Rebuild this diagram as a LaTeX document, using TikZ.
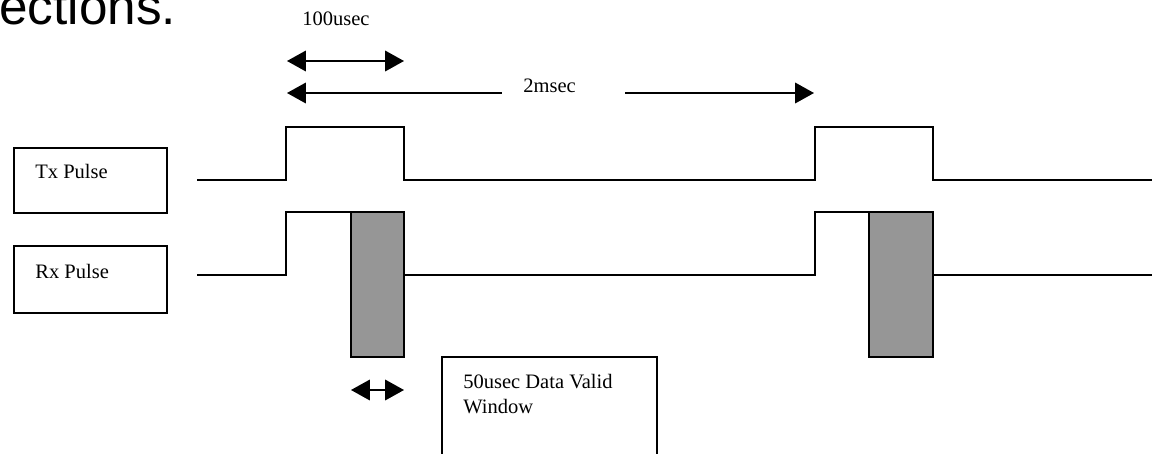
\documentclass[tikz,border=0pt]{standalone}
\usepackage{fontspec}
\setmainfont{Liberation Serif}
\newfontfamily\headfont{Liberation Sans}
\usepackage{tikz}
\usetikzlibrary{arrows.meta}
\definecolor{winfill}{RGB}{150,150,150}
\tikzset{
  sig/.style={line width=1pt,black},
  box/.style={line width=1pt,black},
  dimarr/.style={line width=0.9pt,black,{Triangle[length=11pt,width=12pt]}-{Triangle[length=11pt,width=12pt]}},
  dimleft/.style={line width=0.9pt,black,{Triangle[length=11pt,width=12pt]}-},
  dimright/.style={line width=0.9pt,black,-{Triangle[length=11pt,width=12pt]}},
  lbl/.style={inner sep=0pt,font=\fontsize{12}{14.6}\selectfont},
}
\begin{document}
\begin{tikzpicture}[x=0.585pt,y=-0.585pt]
    \clip (0,0) rectangle (1152,453);
    % Heading (cut off)
    \node[inner sep=0pt,anchor=base west,font=\headfont\fontsize{30}{34}\selectfont] (head) at (-1,24) {ections.};
    % Timing marks
    \node[lbl,anchor=base west] (usec) at (302,25) {100usec};
    \coordinate (pa) at (287,61);
    \coordinate (pb) at (404,61);
    \draw[dimarr] (pa) to (pb);
    \node[lbl,anchor=base west] (msec) at (523,92) {2msec};
    \coordinate (ma) at (287,93);
    \coordinate (mb) at (502,93);
    \coordinate (mc) at (625,93);
    \coordinate (md) at (814,93);
    \draw[dimleft] (ma) to (mb);
    \draw[dimright] (mc) to (md);
    % Labels
    \draw[box] (14,148) rectangle (167,213);
    \node[lbl,anchor=base west] (tx) at (35,178) {Tx Pulse};
    \draw[box] (14,246) rectangle (167,313);
    \node[lbl,anchor=base west] (rx) at (35,278) {Rx Pulse};
    % Tx pulse
    \draw[sig] (197,180) -| (286,127) -| (404,180) -| (815,127) -| (933,180) -- (1152,180);
    % Rx pulse
    \draw[sig] (197,275) -| (286,212) -| (404,275) -| (815,212) -| (933,275) -- (1152,275);
    % Data valid windows
    \draw[box,fill=winfill] (351,212) rectangle (404,357);
    \draw[box,fill=winfill] (869,212) rectangle (933,357);
    \coordinate (wa) at (351,390);
    \coordinate (wb) at (404,390);
    \draw[dimarr] (wa) to (wb);
    % Window note
    \draw[box] (442,470) -- (442,357) -- (657,357) -- (657,470);
    \node[lbl,anchor=base west,align=left] (note) at (463,413) {50usec Data Valid\\Window};
\end{tikzpicture}
\end{document}
